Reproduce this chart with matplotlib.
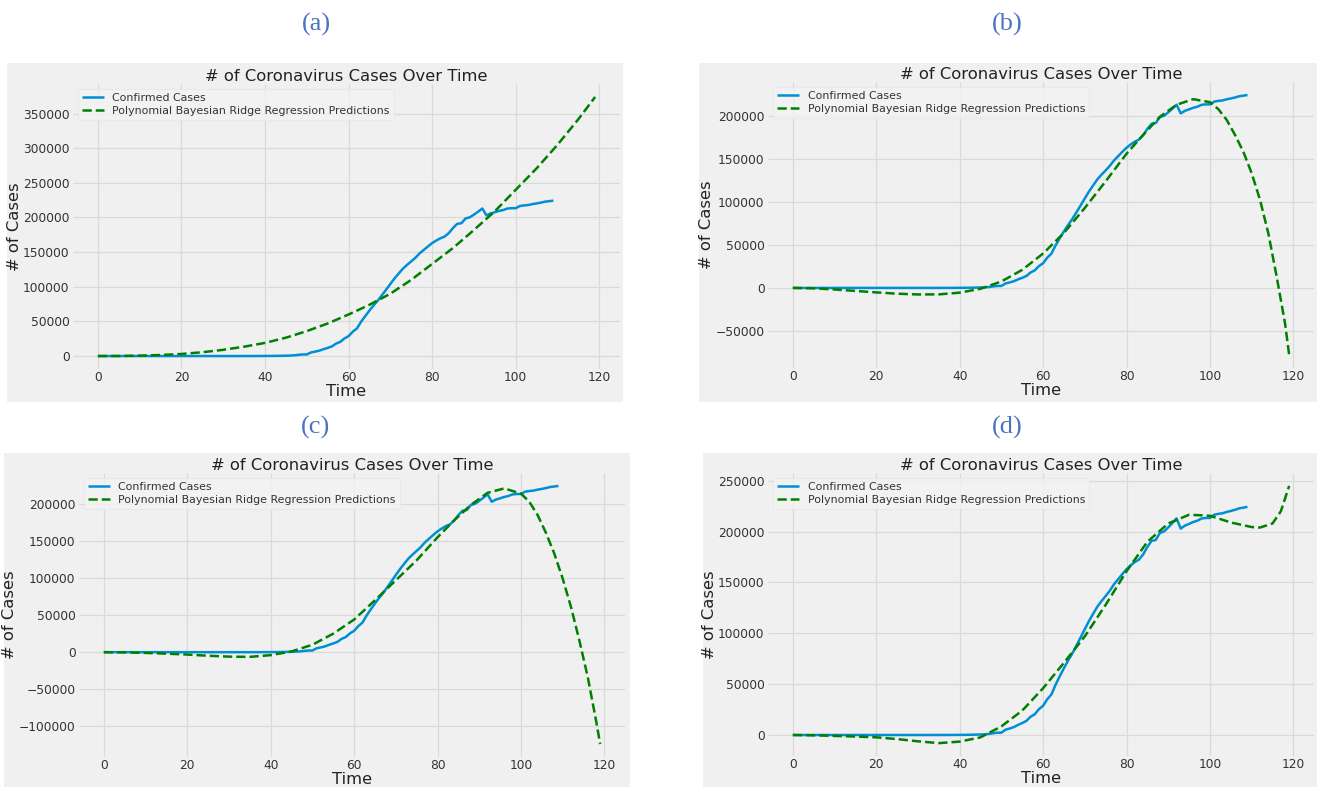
import matplotlib
matplotlib.use("Agg")
import matplotlib.pyplot as plt
from matplotlib.patches import Rectangle
from matplotlib.ticker import MultipleLocator

plt.style.use("fivethirtyeight")
plt.rcParams["font.family"] = ["DejaVu Sans"]

# ---------------- data ----------------
confirmed = [0, 0, 0, 0, 0, 0, 0, 0, 0, 0,
             1, 1, 1, 1, 1, 1, 1, 1, 1,
             2, 2, 2, 2, 2, 2, 2, 2, 2, 2, 2, 2, 2, 2, 2,
             6, 13, 15, 32, 45, 84, 120, 165, 222, 259, 400, 500, 673, 1073, 1695, 2277,
             2277, 5232, 6391, 7798, 9942, 11748, 13910, 17963, 20410, 25374,
             28768, 35136, 39885, 49515, 57786, 65719, 73235, 80110, 87956, 95923,
             104118, 112065, 119199, 126168, 131646, 136675, 141942, 148220, 153222, 158273,
             163027, 166831, 170099, 172541, 177644, 184948, 190839, 191726, 198674, 200210,
             204178, 208389, 213024, 202990, 205905, 207634, 209465, 210773, 212917, 213435,
             213435, 216582, 217466, 218011, 219329, 220325, 221447, 222857, 223578, 224350]
days = list(range(len(confirmed)))

pred_days_a = [0, 5, 10, 15, 20, 25, 30, 35, 40, 45, 50, 55, 60, 65, 70, 75, 80, 85,
               90, 95, 100, 105, 110, 115, 119]
pred_a = [0, 100, 600, 1500, 3000, 5500, 9000, 13500, 19000, 26500, 36000, 47000,
          60000, 74000, 90000, 110000, 133000, 156000, 182000, 209000, 240000, 271000,
          305000, 342000, 374000]

pred_days_b = [0, 5, 10, 15, 20, 25, 30, 35, 40, 45, 50, 55, 60, 65, 70, 75, 80,
               84, 88, 92, 96, 100, 102, 104, 106, 108, 110, 112, 114, 116, 118, 119]
pred_b = [0, -500, -1800, -3500, -5200, -6700, -7600, -7500, -5500, -1000, 7500, 21000,
          40000, 64000, 93000, 124000, 156000, 178000, 199000, 213000, 219500, 216000,
          208000, 195500, 178000, 158500, 133500, 102500, 63500, 13000, -41000, -78000]

pred_days_c = pred_days_b
pred_c = [0, -300, -1000, -2000, -3200, -4800, -6000, -6300, -4000, 1000, 10000, 25000,
          44000, 70000, 97000, 124000, 155000, 178000, 198700, 215000, 221000, 214000,
          203000, 185000, 161000, 133000, 99500, 61000, 16000, -33000, -92000, -124000]

pred_days_d = [0, 5, 10, 15, 20, 25, 30, 35, 40, 45, 50, 55, 60, 65, 70, 75, 80, 85,
               90, 95, 100, 105, 110, 112, 115, 117, 119]
pred_d = [0, -300, -900, -1500, -2300, -4000, -6200, -8000, -6500, -2300, 8500, 24000,
          46000, 71000, 97000, 128000, 161000, 190000, 208000, 216600, 215600, 209000,
          204500, 204000, 208000, 220000, 245000]

panel_labels = ["(a)", "(b)", "(c)", "(d)"]
title_text = "# of Coronavirus Cases Over Time"
legend_labels = ["Confirmed Cases", "Polynomial Bayesian Ridge Regression Predictions"]

# ---------------- layout (pixels) ----------------
W, H = 1317, 787
fig = plt.figure(figsize=(W / 100, H / 100), dpi=100)
fig.patch.set_facecolor("white")

# background boxes: (x0, y0, x1, y1) in px from top-left
bgs = [(7, 63, 623, 402), (699, 63, 1317, 402), (4, 453, 630, 787), (703, 453, 1317, 787)]
# axes boxes: (left, top, right, bottom)
axboxes = [(73, 84, 620, 369), (768, 82, 1314, 368), (79, 473, 625, 757), (768, 473, 1314, 756)]
label_pos = [(316, 24), (1007, 24), (316, 427), (1007, 427)]

for (x0, y0, x1, y1) in bgs:
    fig.patches.append(Rectangle((x0 / W, 1 - y1 / H), (x1 - x0) / W, (y1 - y0) / H,
                                 transform=fig.transFigure, facecolor="#f0f0f0",
                                 edgecolor="none", zorder=-5))

preds = [(pred_days_a, pred_a), (pred_days_b, pred_b), (pred_days_c, pred_c), (pred_days_d, pred_d)]

for i, (l, t, r, b) in enumerate(axboxes):
    ax = fig.add_axes([l / W, 1 - b / H, (r - l) / W, (b - t) / H])
    ax.set_zorder(2)
    ax.set_facecolor("#f0f0f0")
    ax.plot(days, confirmed, color="#008fd5", lw=1.8, label=legend_labels[0])
    pdays, pvals = preds[i]
    ax.plot(pdays, pvals, color="green", lw=1.8, linestyle="--", label=legend_labels[1])
    ax.xaxis.set_major_locator(MultipleLocator(20))
    ax.yaxis.set_major_locator(MultipleLocator(50000))
    ax.grid(True, color="#d9d9d9", lw=0.9)
    for s in ax.spines.values():
        s.set_visible(False)
    ax.tick_params(axis="both", length=0, labelsize=8.8, labelcolor="#333333")
    ax.tick_params(axis="x", pad=1.5)
    ax.tick_params(axis="y", pad=2.5)
    ax.set_title(title_text, fontsize=11.8, pad=2, color="#222222")
    ax.set_xlabel("Time", fontsize=11.8, labelpad=0, color="#222222")
    ax.set_ylabel("# of Cases", fontsize=11.8, labelpad=1, color="#222222")
    leg = ax.legend(loc="upper left", fontsize=7.9, labelspacing=0.3, borderpad=0.35,
                    borderaxespad=0.45, handlelength=2.0, fancybox=True)
    leg.get_frame().set_facecolor("#f3f3f3")
    leg.get_frame().set_edgecolor("#e8e8e8")
    leg.get_frame().set_linewidth(0.8)
    for txt in leg.get_texts():
        txt.set_color("#333333")

for lab, (x, y) in zip(panel_labels, label_pos):
    fig.text(x / W, 1 - y / H, lab, ha="center", va="center", fontsize=19,
             family=["Liberation Serif", "DejaVu Serif"], color="#4a74c0")

fig.savefig("out.png", dpi=100, facecolor="white")
